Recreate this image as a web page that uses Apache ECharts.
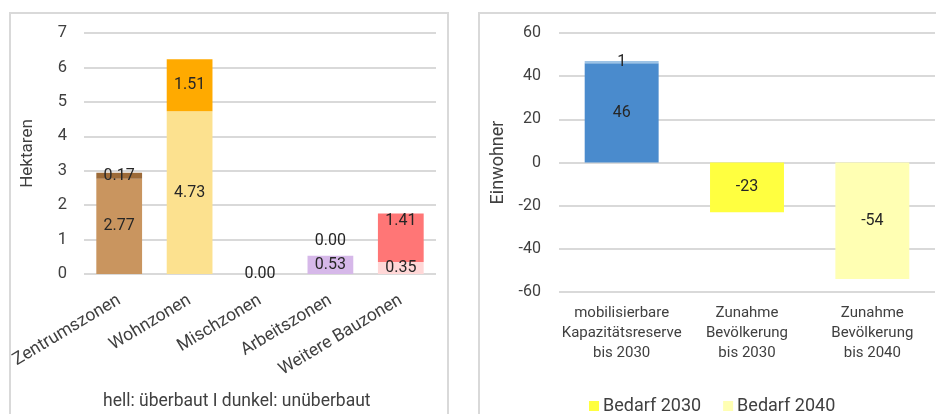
<!DOCTYPE html>
<html>
<head>
<meta charset="utf-8">
<script src="https://cdn.jsdelivr.net/npm/echarts@6/dist/echarts.min.js"></script>
<style>
  html, body { margin: 0; padding: 0; background: #fff; }
  #chart { width: 936px; height: 414px; }
</style>
</head>
<body>
<div id="chart"></div>
<script>
// Bauzonen-Reserven (Hektaren): hell = überbaut, dunkel = unüberbaut
const zones = ['Zentrumszonen', 'Wohnzonen', 'Mischzonen', 'Arbeitszonen', 'Weitere Bauzonen'];
const builtHa = [2.77, 4.73, 0.00, 0.53, 0.35];
const unbuiltHa = [0.17, 1.51, 0.00, 0.00, 1.41];
const zoneTicks = [0, 1, 2, 3, 4, 5, 6, 7];

// Kapazität vs. Bedarf (Einwohner)
const capCategories = ['mobilisierbare\nKapazitätsreserve\nbis 2030', 'Zunahme\nBevölkerung\nbis 2030', 'Zunahme\nBevölkerung\nbis 2040'];
const reserve = [46, null, null];
const reserveExtra = [1, null, null];
const bedarf2030 = [null, -23, null];
const bedarf2040 = [null, null, -54];
const capTicks = [-60, -40, -20, 0, 20, 40, 60];

const lightColors = ['#C9955F', '#FCE18F', '#BFBFBF', '#D6B8E9', '#FFD7D7'];
const darkColors = ['#9C6A38', '#FFAA00', '#7F7F7F', '#9E6CC9', '#FF7676'];

const FONT = 'Roboto';
const labelColor = '#262626';
const axisColor = '#404040';

const fmt2 = p => p.value.toFixed(2);

const builtData = builtHa.map((v, i) => ({
  value: v,
  itemStyle: { color: lightColors[i] }
}));
const unbuiltData = unbuiltHa.map((v, i) => {
  const item = { value: v, itemStyle: { color: darkColors[i] } };
  if (i === 2) item.label = { show: false };
  if (i === 3) item.label = { position: 'top', distance: 7 };
  if (i === 4) item.label = { position: 'insideTop', distance: 0 };
  return item;
});

const chart = echarts.init(document.getElementById('chart'), null, { renderer: 'canvas' });

const dataLabel = (formatter) => ({
  show: true,
  position: 'inside',
  color: labelColor,
  fontFamily: FONT,
  fontSize: 16,
  formatter
});

chart.setOption({
  animation: false,
  textStyle: { fontFamily: FONT },
  graphic: [
    { type: 'rect', shape: { x: 10, y: 13, width: 438, height: 430 }, style: { fill: 'none', stroke: '#D9D9D9', lineWidth: 2 }, silent: true },
    { type: 'rect', shape: { x: 479, y: 13, width: 480, height: 430 }, style: { fill: 'none', stroke: '#D9D9D9', lineWidth: 2 }, silent: true },
    { type: 'text', left: 103, top: 393, style: { text: 'hell: überbaut I dunkel: unüberbaut', fill: axisColor, font: '17.5px ' + FONT } }
  ],
  legend: {
    data: ['Bedarf 2030', 'Bedarf 2040'],
    left: 584,
    top: 392,
    itemWidth: 10,
    itemHeight: 10,
    itemGap: 22,
    icon: 'rect',
    textStyle: { color: axisColor, fontSize: 18, fontFamily: FONT, padding: [0, 0, 0, -1] }
  },
  grid: [
    { left: 84, right: 500, top: 33, bottom: 140 },
    { left: 559, right: 1, top: 33, bottom: 122 }
  ],
  xAxis: [
    {
      type: 'category', gridIndex: 0, data: zones,
      axisLine: { show: false }, axisTick: { show: false },
      axisLabel: { rotate: 31, margin: 25, color: axisColor, fontSize: 17.5, fontFamily: FONT, interval: 0 }
    },
    {
      type: 'category', gridIndex: 1, data: capCategories,
      axisLine: { show: false, onZero: false }, axisTick: { show: false },
      axisLabel: { margin: 11, color: axisColor, fontSize: 15, lineHeight: 20, fontFamily: FONT, interval: 0 }
    }
  ],
  yAxis: [
    {
      type: 'value', gridIndex: 0, min: zoneTicks[0], max: zoneTicks[zoneTicks.length - 1], interval: 1,
      name: 'Hektaren', nameLocation: 'middle', nameGap: 48,
      nameTextStyle: { color: axisColor, fontSize: 17, fontFamily: FONT },
      axisLine: { show: false }, axisTick: { show: false },
      axisLabel: { margin: 17, color: axisColor, fontSize: 16.5, fontFamily: FONT },
      splitLine: { lineStyle: { color: '#D9D9D9', width: 2 } }
    },
    {
      type: 'value', gridIndex: 1, min: capTicks[0], max: capTicks[capTicks.length - 1], interval: 20,
      name: 'Einwohner', nameLocation: 'middle', nameGap: 52,
      nameTextStyle: { color: axisColor, fontSize: 18, fontFamily: FONT },
      axisLine: { show: false }, axisTick: { show: false },
      axisLabel: { margin: 18, color: axisColor, fontSize: 16, fontFamily: FONT },
      splitLine: { lineStyle: { color: '#D9D9D9', width: 2 } }
    }
  ],
  series: [
    {
      name: 'überbaut', type: 'bar', stack: 'zonen', xAxisIndex: 0, yAxisIndex: 0,
      barWidth: '65%', data: builtData, label: dataLabel(fmt2)
    },
    {
      name: 'unüberbaut', type: 'bar', stack: 'zonen', xAxisIndex: 0, yAxisIndex: 0,
      barWidth: '65%', data: unbuiltData, label: dataLabel(fmt2)
    },
    {
      name: 'Kapazitätsreserve', type: 'bar', stack: 'cap', xAxisIndex: 1, yAxisIndex: 1,
      barWidth: '59%', data: reserve, itemStyle: { color: '#4A8BCD' }, label: dataLabel('{c}')
    },
    {
      name: 'Zusatzreserve', type: 'bar', stack: 'cap', xAxisIndex: 1, yAxisIndex: 1,
      barWidth: '59%', data: reserveExtra, itemStyle: { color: '#9DC3E6' }, label: dataLabel('{c}')
    },
    {
      name: 'Bedarf 2030', type: 'bar', stack: 'cap', xAxisIndex: 1, yAxisIndex: 1,
      barWidth: '59%', data: bedarf2030, itemStyle: { color: '#FFFF40' }, label: dataLabel('{c}')
    },
    {
      name: 'Bedarf 2040', type: 'bar', stack: 'cap', xAxisIndex: 1, yAxisIndex: 1,
      barWidth: '59%', data: bedarf2040, itemStyle: { color: '#FFFFB3' }, label: dataLabel('{c}')
    }
  ]
});
</script>
</body>
</html>
